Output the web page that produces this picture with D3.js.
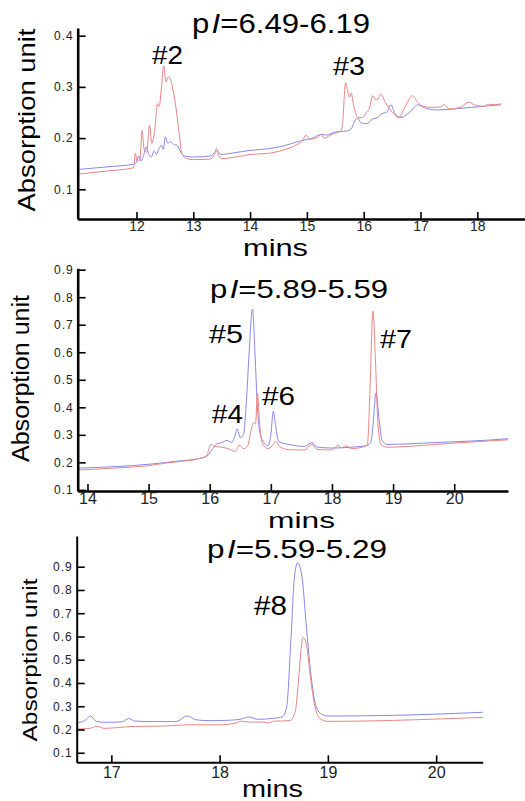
<!DOCTYPE html>
<html><head><meta charset="utf-8">
<script src="https://cdn.jsdelivr.net/npm/d3@7"></script>
<style>
body{margin:0;background:#fff}
svg{display:block}
text{font-family:"Liberation Sans",Arial,Helvetica,sans-serif}
</style>
</head><body>
<svg id="c" width="525" height="801"></svg>
<script>
// ---------- DATA ----------
const titles = ["=6.49-6.19", "=5.89-5.59", "=5.59-5.29"];
const yLabel = "Absorption unit";
const xLabel = "mins";

const p1XTicks = [12, 13, 14, 15, 16, 17, 18];
const p1YTicks = [0.1, 0.2, 0.3, 0.4];
const p2XTicks = [14, 15, 16, 17, 18, 19, 20];
const p2YTicks = [0.1, 0.2, 0.3, 0.4, 0.5, 0.6, 0.7, 0.8, 0.9];
const p3XTicks = [17, 18, 19, 20];
const p3YTicks = [0.1, 0.2, 0.3, 0.4, 0.5, 0.6, 0.7, 0.8, 0.9];

const p1Peaks = ["#2", "#3"];
const p2Peaks = ["#4", "#5", "#6", "#7"];
const p3Peaks = ["#8"];

// panel 1 series: [minutes, absorbance]
const p1Blue = [[11.0,0.139],[11.5,0.144],[11.95,0.149],[12.0,0.152],[12.04,0.165],[12.08,0.155],[12.13,0.168],[12.17,0.183],[12.22,0.168],[12.26,0.163],[12.31,0.175],[12.35,0.168],[12.4,0.18],[12.44,0.186],[12.47,0.178],[12.51,0.202],[12.55,0.19],[12.6,0.193],[12.65,0.188],[12.72,0.185],[12.78,0.172],[12.85,0.165],[13.0,0.163],[13.3,0.165],[13.38,0.172],[13.42,0.175],[13.48,0.168],[13.7,0.171],[14.0,0.176],[14.3,0.179],[14.6,0.185],[14.75,0.19],[14.9,0.195],[15.1,0.2],[15.25,0.207],[15.35,0.206],[15.5,0.212],[15.7,0.214],[15.78,0.218],[15.85,0.235],[15.9,0.238],[15.95,0.23],[16.05,0.228],[16.15,0.237],[16.25,0.24],[16.32,0.248],[16.4,0.25],[16.48,0.265],[16.55,0.248],[16.65,0.24],[16.75,0.245],[16.85,0.255],[16.95,0.265],[17.1,0.258],[17.3,0.255],[17.6,0.257],[17.9,0.26],[18.2,0.263],[18.42,0.265]];
const p1Red = [[11.0,0.130],[11.5,0.136],[11.95,0.142],[11.98,0.17],[12.01,0.155],[12.06,0.158],[12.1,0.215],[12.13,0.18],[12.18,0.172],[12.23,0.225],[12.27,0.19],[12.32,0.215],[12.37,0.267],[12.4,0.262],[12.44,0.3],[12.48,0.341],[12.52,0.31],[12.56,0.32],[12.6,0.315],[12.65,0.29],[12.7,0.255],[12.75,0.21],[12.8,0.17],[12.88,0.16],[13.0,0.158],[13.3,0.159],[13.37,0.168],[13.41,0.18],[13.45,0.165],[13.5,0.16],[13.8,0.164],[14.0,0.168],[14.3,0.17],[14.6,0.177],[14.8,0.186],[14.93,0.196],[14.98,0.206],[15.05,0.198],[15.2,0.202],[15.25,0.208],[15.3,0.2],[15.45,0.208],[15.6,0.214],[15.63,0.23],[15.68,0.308],[15.72,0.29],[15.75,0.28],[15.78,0.288],[15.82,0.265],[15.9,0.24],[15.98,0.24],[16.05,0.25],[16.1,0.258],[16.16,0.283],[16.2,0.275],[16.25,0.276],[16.3,0.286],[16.38,0.27],[16.45,0.258],[16.55,0.245],[16.62,0.24],[16.7,0.255],[16.78,0.272],[16.86,0.283],[16.95,0.27],[17.05,0.262],[17.2,0.26],[17.35,0.261],[17.42,0.265],[17.5,0.257],[17.7,0.26],[17.85,0.27],[17.95,0.265],[18.1,0.262],[18.2,0.266],[18.3,0.265],[18.42,0.267]];

// panel 2 series
const p2Blue = [[13.84,0.179],[14.5,0.185],[15.0,0.193],[15.3,0.2],[15.5,0.205],[15.8,0.213],[15.95,0.222],[16.05,0.25],[16.12,0.268],[16.2,0.272],[16.28,0.28],[16.36,0.272],[16.41,0.295],[16.45,0.322],[16.5,0.29],[16.55,0.3],[16.6,0.42],[16.64,0.58],[16.7,0.757],[16.74,0.6],[16.78,0.4],[16.83,0.3],[16.88,0.275],[16.95,0.26],[17.0,0.3],[17.04,0.385],[17.08,0.33],[17.13,0.275],[17.3,0.265],[17.55,0.258],[17.67,0.272],[17.75,0.256],[18.0,0.252],[18.3,0.255],[18.55,0.26],[18.63,0.27],[18.67,0.33],[18.72,0.452],[18.77,0.36],[18.82,0.28],[18.9,0.265],[19.5,0.27],[20.0,0.275],[20.5,0.28],[20.88,0.286]];
const p2Red = [[13.84,0.172],[14.5,0.18],[15.0,0.188],[15.3,0.198],[15.5,0.203],[15.8,0.212],[15.95,0.225],[16.02,0.266],[16.08,0.258],[16.2,0.255],[16.3,0.25],[16.42,0.24],[16.48,0.262],[16.56,0.25],[16.62,0.26],[16.68,0.32],[16.72,0.345],[16.75,0.34],[16.78,0.452],[16.82,0.33],[16.86,0.27],[16.95,0.25],[17.04,0.265],[17.08,0.276],[17.14,0.258],[17.3,0.246],[17.55,0.245],[17.67,0.265],[17.76,0.247],[18.0,0.245],[18.1,0.262],[18.15,0.252],[18.22,0.26],[18.32,0.25],[18.5,0.255],[18.58,0.265],[18.62,0.45],[18.67,0.75],[18.71,0.58],[18.75,0.35],[18.8,0.265],[18.9,0.255],[19.5,0.262],[20.0,0.27],[20.5,0.277],[20.88,0.282]];

// panel 3 series
const p3Blue = [[16.68,0.229],[16.75,0.237],[16.81,0.258],[16.86,0.235],[16.95,0.231],[17.1,0.233],[17.16,0.247],[17.22,0.236],[17.4,0.234],[17.6,0.234],[17.7,0.259],[17.78,0.242],[17.9,0.238],[18.1,0.24],[18.2,0.245],[18.27,0.254],[18.35,0.244],[18.5,0.248],[18.58,0.255],[18.62,0.3],[18.66,0.6],[18.69,0.85],[18.72,0.917],[18.76,0.86],[18.8,0.65],[18.84,0.45],[18.88,0.32],[18.93,0.27],[19.0,0.258],[19.5,0.26],[20.0,0.266],[20.43,0.274]];
const p3Red = [[16.68,0.202],[16.8,0.205],[16.87,0.214],[16.93,0.205],[17.2,0.213],[17.5,0.215],[17.7,0.22],[18.0,0.22],[18.15,0.228],[18.2,0.236],[18.27,0.232],[18.4,0.232],[18.45,0.228],[18.5,0.236],[18.65,0.238],[18.7,0.28],[18.73,0.42],[18.77,0.596],[18.8,0.57],[18.84,0.42],[18.88,0.3],[18.93,0.245],[19.0,0.235],[19.5,0.238],[20.0,0.245],[20.43,0.252]];

// ---------- LAYOUT ----------
const RED = "#e98686", BLUE = "#8888e8";
const panels = [
  { title: titles[0], xTicks: p1XTicks, yTicks: p1YTicks, blue: p1Blue, red: p1Red,
    xDom: [10.965, 18.84], xRng: [77.7, 525], yDom: [0.042, 0.415], yRng: [219, 28],
    axisW: 2.6, xFont: 14, xPad: 2, yFont: 12, yPad: 4,
    titlePos: [281, 33.3, 27, 178],
    yLab: [35, 120, 24, 183], xLab: [275.5, 256, 24, 65],
    peaks: p1Peaks, peakPos: [[167.5, 64, 25, 31], [349, 75, 25, 32]] },
  { title: titles[1], xTicks: p2XTicks, yTicks: p2YTicks, blue: p2Blue, red: p2Red,
    xDom: [13.84, 20.88], xRng: [77.7, 508], yDom: [0.096, 0.905], yRng: [491, 268.3],
    axisW: 2.6, xFont: 16, xPad: 2, yFont: 12, yPad: 4,
    titlePos: [299, 298.3, 26, 178],
    yLab: [28.5, 378.5, 23, 167], xLab: [301.5, 528, 22, 67],
    peaks: p2Peaks, peakPos: [[227.5, 423, 25, 31], [226, 343, 25, 34], [278.5, 405, 25, 33], [396, 348, 25, 32]] },
  { title: titles[2], xTicks: p3XTicks, yTicks: p3YTicks, blue: p3Blue, red: p3Red,
    xDom: [16.68, 20.43], xRng: [76.7, 482.7], yDom: [0.059, 1.032], yRng: [762.3, 536],
    axisW: 2, xFont: 16, xPad: 4, yFont: 12, yPad: 4,
    titlePos: [297, 558.3, 26, 180],
    yLab: [36.5, 660, 21, 163], xLab: [272.5, 797, 23, 61],
    peaks: p3Peaks, peakPos: [[270.5, 615, 27, 33]] }
];

const svg = d3.select("#c");

panels.forEach(p => {
  const x = d3.scaleLinear().domain(p.xDom).range(p.xRng);
  const y = d3.scaleLinear().domain(p.yDom).range(p.yRng);
  const g = svg.append("g");

  const line = d3.line().x(d => x(d[0])).y(d => y(d[1])).curve(d3.curveMonotoneX);
  g.append("path").datum(p.blue).attr("d", line)
    .attr("fill", "none").attr("stroke", BLUE).attr("stroke-width", 1);
  g.append("path").datum(p.red).attr("d", line)
    .attr("fill", "none").attr("stroke", RED).attr("stroke-width", 1);

  // y axis
  const ya = g.append("g").attr("transform", `translate(${p.xRng[0]},0)`)
    .call(d3.axisLeft(y).tickValues(p.yTicks).tickFormat(d3.format(".1f"))
      .tickSizeInner(-8).tickSizeOuter(0).tickPadding(p.yPad));
  ya.select(".domain").attr("stroke", "#000").attr("stroke-width", p.axisW);
  ya.selectAll(".tick line").attr("stroke", "#000").attr("stroke-width", 1.6);
  ya.selectAll(".tick text").attr("font-size", p.yFont).attr("fill", "#222")
    .attr("letter-spacing", "1px").style("font-family", '"Liberation Sans",Arial,sans-serif');

  // x axis
  const xa = g.append("g").attr("transform", `translate(0,${p.yRng[0]})`)
    .call(d3.axisBottom(x).tickValues(p.xTicks).tickFormat(d3.format("d"))
      .tickSizeInner(-7).tickSizeOuter(0).tickPadding(p.xPad));
  xa.select(".domain").attr("stroke", "#000").attr("stroke-width", p.axisW);
  xa.selectAll(".tick line").attr("stroke", "#000").attr("stroke-width", 1.6);
  xa.selectAll(".tick text").attr("font-size", p.xFont).attr("fill", "#222")
    .style("font-family", '"Liberation Sans",Arial,sans-serif');

  // title
  const [tx, ty, tf, tl] = p.titlePos;
  const t = g.append("text").attr("x", tx).attr("y", ty).attr("text-anchor", "middle")
    .attr("font-size", tf).attr("textLength", tl).attr("lengthAdjust", "spacingAndGlyphs");
  t.append("tspan").text("p");
  t.append("tspan").attr("font-style", "italic").attr("dx", 2).text("I");
  t.append("tspan").text(p.title);

  // y label
  const [lx, ly, lf, ll] = p.yLab;
  g.append("text").attr("transform", `translate(${lx},${ly}) rotate(-90)`)
    .attr("text-anchor", "middle").attr("font-size", lf)
    .attr("textLength", ll).attr("lengthAdjust", "spacingAndGlyphs").text(yLabel);

  // x label
  const [mx, my, mf, ml] = p.xLab;
  g.append("text").attr("x", mx).attr("y", my).attr("text-anchor", "middle")
    .attr("font-size", mf).attr("textLength", ml).attr("lengthAdjust", "spacingAndGlyphs").text(xLabel);

  // peak labels
  p.peaks.forEach((lab, i) => {
    const [px, py, pf, pl] = p.peakPos[i];
    g.append("text").attr("x", px).attr("y", py).attr("text-anchor", "middle")
      .attr("font-size", pf).attr("textLength", pl).attr("lengthAdjust", "spacingAndGlyphs").text(lab);
  });
});
</script>
</body></html>
